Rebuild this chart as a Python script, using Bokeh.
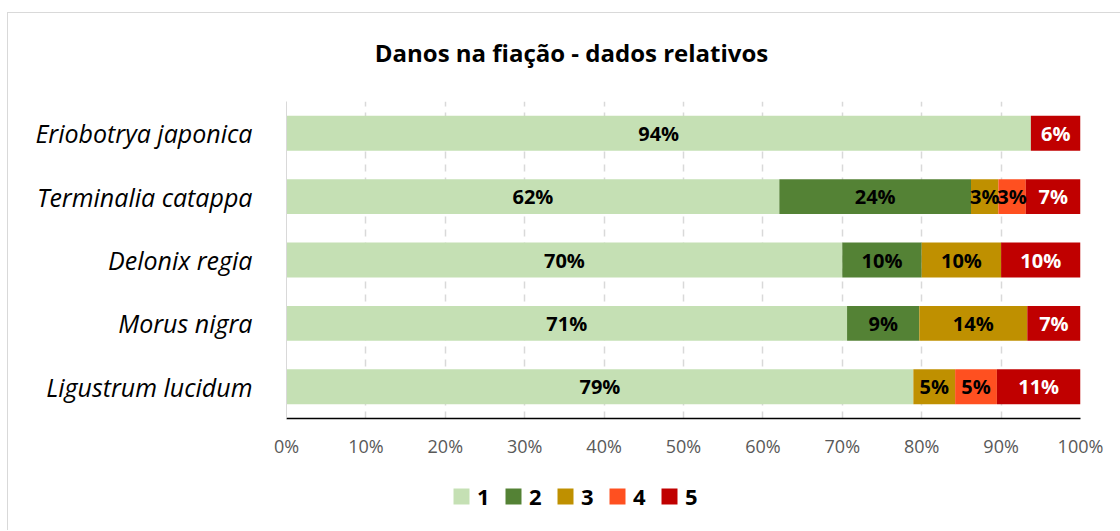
from bokeh.plotting import figure
from bokeh.layouts import column
from bokeh.models import (ColumnDataSource, FactorRange, Range1d, FixedTicker,
                          PrintfTickFormatter, Legend, LegendItem, Label)
from bokeh.core.properties import value
from bokeh.embed import file_html
from bokeh.resources import INLINE

# ---- data ----
categories = ["Eriobotrya japonica", "Terminalia catappa", "Delonix regia",
              "Morus nigra", "Ligustrum lucidum"]
series_names = ["1", "2", "3", "4", "5"]
s1 = [93.75, 62.07, 70.0, 70.6, 78.95]
s2 = [0.0, 24.14, 10.0, 9.1, 0.0]
s3 = [0.0, 3.45, 10.0, 13.6, 5.26]
s4 = [0.0, 3.45, 0.0, 0.0, 5.26]
s5 = [6.25, 6.90, 10.0, 6.7, 10.53]
colors = ["#C5E0B4", "#548235", "#BF9000", "#FF5020", "#C00000"]
label_colors = ["#000000", "#000000", "#000000", "#000000", "#FFFFFF"]
x_ticks = [0, 10, 20, 30, 40, 50, 60, 70, 80, 90, 100]
title_text = "Danos na fiação - dados relativos"

FONT = "Open Sans"
W = 1112
series = [s1, s2, s3, s4, s5]


def blank_fig(h):
    f = figure(width=W, height=h, output_backend="svg", toolbar_location=None,
               x_range=Range1d(0, 1), y_range=Range1d(0, 1),
               x_axis_type=None, y_axis_type=None, title=None,
               min_border_left=278, min_border_right=40, min_border_top=0,
               min_border_bottom=0)
    f.outline_line_color = None
    f.grid.visible = False
    f.background_fill_color = "white"
    f.border_fill_color = "white"
    return f


# ---- title strip ----
pt = blank_fig(88)
pt.add_layout(Label(x=285, y=49, x_units="screen", y_units="screen",
                    text=title_text, text_font=FONT, text_font_style="bold",
                    text_font_size="24px", text_color="#000000",
                    text_align="center", text_baseline="middle"))

# ---- main chart ----
src = ColumnDataSource(data={"cat": categories,
                             **{n: v for n, v in zip(series_names, series)}})

p = figure(width=W, height=367, output_backend="svg", toolbar_location=None,
           y_range=FactorRange(factors=list(reversed(categories))),
           x_range=Range1d(0, 100), title=None,
           min_border_left=278, min_border_right=40, min_border_top=0,
           min_border_bottom=50)
p.outline_line_color = None
p.background_fill_color = "white"
p.border_fill_color = "white"

renderers = p.hbar_stack(series_names, y="cat", height=0.55, color=colors,
                         source=src, line_color=None)

lx, ly, lt, lc = [], [], [], []
for i, cat in enumerate(categories):
    cum = 0.0
    for k, vals in enumerate(series):
        v = vals[i]
        if v > 0:
            lx.append(cum + v / 2)
            ly.append(cat)
            lt.append(f"{v:.0f}%")
            lc.append(label_colors[k])
        cum += v
lsrc = ColumnDataSource(data={"x": lx, "y": ly, "t": lt, "c": lc})
p.text(x="x", y="y", text="t", source=lsrc, text_color="c",
       text_font=value(FONT), text_font_style="bold", text_font_size="20px",
       text_align="center", text_baseline="middle")

p.xaxis.ticker = FixedTicker(ticks=x_ticks)
p.xaxis.formatter = PrintfTickFormatter(format="%d%%")
p.xaxis.axis_line_color = "#000000"
p.xaxis.axis_line_width = 1.5
p.xaxis.major_tick_line_color = None
p.xaxis.minor_tick_line_color = None
p.xaxis.major_tick_out = 0
p.xaxis.major_tick_in = 0
p.xaxis.major_label_standoff = 15
p.xaxis.major_label_text_font = FONT
p.xaxis.major_label_text_font_size = "18px"
p.xaxis.major_label_text_color = "#595959"

p.yaxis.axis_line_color = "#d9d9d9"
p.yaxis.axis_line_width = 1
p.yaxis.major_tick_line_color = None
p.yaxis.minor_tick_line_color = None
p.yaxis.major_tick_out = 0
p.yaxis.major_tick_in = 0
p.yaxis.major_label_standoff = 34
p.yaxis.major_label_text_font = FONT
p.yaxis.major_label_text_font_style = "italic"
p.yaxis.major_label_text_font_size = "25px"
p.yaxis.major_label_text_color = "#000000"

p.ygrid.grid_line_color = None
p.xgrid.grid_line_color = "#d9d9d9"
p.xgrid.grid_line_width = 1.5
p.xgrid.grid_line_dash = "7 6"

# ---- legend strip ----
pl = blank_fig(62)
nan = float("nan")
leg_src = ColumnDataSource(data={"y": [nan], "right": [nan]})
leg_renderers = [pl.hbar(y="y", right="right", height=0.5, color=c,
                         line_color=None, source=leg_src)
                 for c in colors]
legend = Legend(items=[LegendItem(label=n, renderers=[r])
                       for n, r in zip(series_names, leg_renderers)],
                orientation="horizontal", location=(165, 19),
                glyph_width=20, glyph_height=20, label_standoff=6, spacing=13,
                label_width=13, padding=0, margin=0, border_line_color=None,
                background_fill_alpha=0,
                label_text_font=FONT, label_text_font_style="bold",
                label_text_font_size="22px", label_text_color="#000000")
pl.add_layout(legend, "center")

layout = column(pt, p, pl, spacing=0,
                styles={"margin-left": "7px", "margin-top": "12px",
                        "border-left": "1px solid #d9d9d9",
                        "border-top": "1px solid #d9d9d9"})

open("out.html", "w").write(file_html(layout, INLINE))
